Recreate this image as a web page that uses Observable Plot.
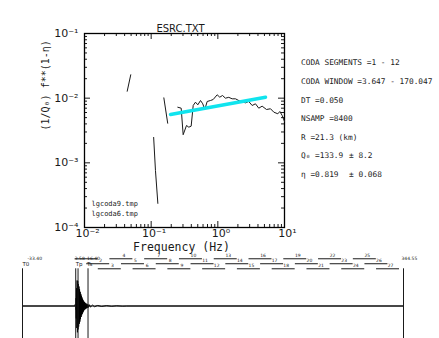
<!DOCTYPE html>
<html><head><meta charset="utf-8">
<script src="https://cdn.jsdelivr.net/npm/d3@7"></script>
<script src="https://cdn.jsdelivr.net/npm/@observablehq/plot@0.6"></script>
<style>
html,body{margin:0;padding:0;background:#fff;}
#wrap{position:relative;width:439px;height:338px;overflow:hidden;}
#wrap svg{position:absolute;left:0;}
.info{position:absolute;left:301px;font-family:"DejaVu Sans Mono",monospace;font-size:7.8px;color:#222;white-space:pre;line-height:1;}
</style></head><body><div id="wrap"></div>
<script>
// ---------- main chart data ----------
const title = "ESRC.TXT";
const xLabel = "Frequency (Hz)";
const yLabel = "(1/Q₀) f**(1-η)";
const xMajor = [0.01, 0.1, 1, 10];
const xTickLabels = ["10⁻²", "10⁻¹", "10⁰", "10¹"];
const yMajor = [1e-4, 1e-3, 1e-2, 1e-1];
const yTickLabels = ["10⁻⁴", "10⁻³", "10⁻²", "10⁻¹"];
const legendLabels = ["lgcoda9.tmp", "lgcoda6.tmp"];

// curve pieces (frequency Hz, value)
const seg1F = [0.0437, 0.0494];
const seg1V = [0.0128, 0.0230];
const seg2F = [0.109, 0.116, 0.126];
const seg2V = [0.00247, 0.000762, 0.000236];
const seg3F = [0.155, 0.177];
const seg3V = [0.0101, 0.0041];
const mainF = [0.251, 0.282, 0.302, 0.339, 0.367, 0.398, 0.427, 0.462, 0.501, 0.550, 0.594, 0.637, 0.692, 0.776, 0.851, 0.977, 1.07, 1.175, 1.30, 1.46, 1.64, 1.84, 2.19, 2.60, 2.91, 3.27, 3.67, 4.11, 4.62, 5.37, 6.17, 6.92, 7.94, 8.51, 9.23, 10.0];
const mainV = [0.00724, 0.00700, 0.00272, 0.00378, 0.00356, 0.00369, 0.00771, 0.00867, 0.00789, 0.00920, 0.00818, 0.00668, 0.00889, 0.00920, 0.00953, 0.01127, 0.01035, 0.0110, 0.0100, 0.0103, 0.00977, 0.00977, 0.00889, 0.00847, 0.00889, 0.00771, 0.00818, 0.00700, 0.00752, 0.00668, 0.00686, 0.00607, 0.00573, 0.00622, 0.00540, 0.00436];
const fitF = [0.195, 5.19];
const fitV = [0.00559, 0.01035];

// info text
const infoLines = ["CODA SEGMENTS =1 - 12", "CODA WINDOW =3.647 - 170.047", "DT =0.050", "NSAMP =8400", "R =21.3 (km)", "Q₀ =133.9", "η =0.819"];
const infoPM = ["", "", "", "", "", "± 8.2", "± 0.068"];

// ---------- seismogram data ----------
const tStart = -33.4, tEnd = 344.55;
const markerT = [-33.4, 19.4, 21.7, 31.6, 344.55];
const markerValueLabels = ["-33.40", "3.58", "", "16.40", "344.55"];
const markerNameLabels = ["T0", "Tp", "", "Ts", ""];
const segStart = [18.8, 30.3, 41.8, 53.3, 64.8, 76.3, 87.8, 99.3, 110.8, 122.3, 133.8, 145.3, 156.8, 168.3, 179.8, 191.3, 202.8, 214.3, 225.8, 237.3, 248.8, 260.3, 271.8, 283.3, 294.8, 306.3, 317.8];
const segLen = 22.8;
const traceT = [-33.4, 18.6, 19.0, 19.3, 19.6, 19.9, 20.2, 20.5, 20.8, 21.1, 21.4, 21.7, 22.0, 22.3, 22.6, 22.9, 23.2, 23.5, 23.8, 24.1, 24.4, 24.7, 25.0, 25.3, 25.6, 25.9, 26.2, 26.5, 26.8, 27.1, 27.4, 27.7, 28.0, 28.4, 28.8, 29.2, 29.6, 30.0, 30.5, 31.0, 31.5, 32, 33, 34, 36, 38, 41, 45, 50, 55, 60, 66, 70, 344.55];
const traceA = [0, 0, 0.05, -0.1, 0.22, -0.35, 0.5, -0.62, 0.72, -0.74, 0.7, -0.66, 0.62, -0.58, 0.55, -0.5, 0.47, -0.44, 0.4, -0.37, 0.34, -0.31, 0.29, -0.26, 0.24, -0.22, 0.2, -0.18, 0.16, -0.15, 0.13, -0.12, 0.11, -0.1, 0.09, -0.08, 0.07, -0.065, 0.06, -0.05, 0.045, -0.04, 0.035, -0.03, 0.025, -0.02, 0.015, -0.012, 0.01, -0.008, 0.006, -0.005, 0, 0];

// ---------- build ----------
const zip = (a, b) => a.map((v, i) => ({x: v, y: b[i]}));
const minorOf = (majors) => majors.slice(0, -1).flatMap(m => [2,3,4,5,6,7,8,9].map(k => k * m));
const xMinor = minorOf(xMajor), yMinor = minorOf(yMajor);
const idx = (arr, d) => arr.findIndex(v => Math.abs(Math.log10(v) - Math.log10(d)) < 1e-6);
const ink = "#1a1a1a";
const FW = 200, FH = 194; // frame size in px (439-84-155, 250-33-23)

const main = Plot.plot({
  width: 439, height: 250,
  marginLeft: 84, marginRight: 155, marginTop: 33, marginBottom: 23,
  x: {type: "log", domain: [0.01, 10]},
  y: {type: "log", domain: [1e-4, 0.1]},
  style: {fontFamily: "DejaVu Sans", background: "transparent", overflow: "visible", color: ink},
  marks: [
    // inward ticks on all four sides
    Plot.ruleX(xMajor, {insetTop: FH - 6, stroke: ink}),
    Plot.ruleX(xMajor, {insetBottom: FH - 6, stroke: ink}),
    Plot.ruleX(xMinor, {insetTop: FH - 3, stroke: ink}),
    Plot.ruleX(xMinor, {insetBottom: FH - 3, stroke: ink}),
    Plot.ruleY(yMajor, {insetRight: FW - 6, stroke: ink}),
    Plot.ruleY(yMajor, {insetLeft: FW - 6, stroke: ink}),
    Plot.ruleY(yMinor, {insetRight: FW - 3, stroke: ink}),
    Plot.ruleY(yMinor, {insetLeft: FW - 3, stroke: ink}),
    Plot.axisX(xMajor, {anchor: "bottom", tickSize: 0, tickPadding: 2, fontSize: 11, dx: 3, tickFormat: d => xTickLabels[idx(xMajor, d)], label: null}),
    Plot.axisY(yMajor, {anchor: "left", tickSize: 0, tickPadding: 6, fontSize: 11, tickFormat: d => yTickLabels[idx(yMajor, d)], label: null}),
    Plot.frame({stroke: "#000", strokeWidth: 1.3}),
    Plot.text([title], {frameAnchor: "top", dy: -9, dx: -4, fontSize: 10}),
    Plot.text([xLabel], {frameAnchor: "bottom", dy: 23, dx: -3, fontSize: 11.5, fontFamily: "DejaVu Sans Mono"}),
    Plot.text([yLabel], {frameAnchor: "left", dx: -39, rotate: -90, fontSize: 10, fontFamily: "DejaVu Sans Mono"}),
    Plot.text([legendLabels[0]], {frameAnchor: "bottom-left", dx: 7, dy: -22, textAnchor: "start", fontSize: 7, fontFamily: "DejaVu Sans Mono"}),
    Plot.text([legendLabels[1]], {frameAnchor: "bottom-left", dx: 7, dy: -12, textAnchor: "start", fontSize: 7, fontFamily: "DejaVu Sans Mono"}),
    Plot.line(zip(seg1F, seg1V), {x: "x", y: "y", stroke: ink, strokeWidth: 1}),
    Plot.line(zip(seg2F, seg2V), {x: "x", y: "y", stroke: ink, strokeWidth: 1}),
    Plot.line(zip(seg3F, seg3V), {x: "x", y: "y", stroke: ink, strokeWidth: 1}),
    Plot.line(zip(mainF, mainV), {x: "x", y: "y", stroke: ink, strokeWidth: 1}),
    Plot.line(zip(fitF, fitV), {x: "x", y: "y", stroke: "#10e4ee", strokeWidth: 3.5})
  ]
});
main.style.top = "0px";

const tr = zip(traceT, traceA);
const rowY = [1.33, 1.19, 1.048];
const segs = segStart.map((s, i) => ({k: i + 1, s, e: s + segLen, row: i % 3}));
const valueDx = [5, -1, 0, -1, -2];
const nameDx = [0, 0, 0, -1, 0];
const markerTextMarks = markerT.flatMap((t, i) => [
  Plot.text([t], {x: d => d, text: () => markerValueLabels[i], frameAnchor: "top", dy: 6, dx: valueDx[i], textAnchor: "start", fontSize: 4.5}),
  Plot.text([t], {x: d => d, text: () => markerNameLabels[i], frameAnchor: "top", dy: 11.5, dx: nameDx[i], textAnchor: "start", fontSize: 5.5})
]);
const seis = Plot.plot({
  width: 439, height: 88,
  marginLeft: 22, marginRight: 36, marginTop: 0, marginBottom: 0,
  x: {domain: [tStart, tEnd], axis: null},
  y: {domain: [-0.915, 1.563], axis: null},
  style: {fontFamily: "DejaVu Sans", background: "transparent", overflow: "visible", color: ink},
  marks: [
    Plot.ruleY([0], {x1: tStart, x2: tEnd, stroke: ink, strokeWidth: 1}),
    Plot.line(tr, {x: "x", y: "y", stroke: "#000", strokeWidth: 1}),
    Plot.ruleX(markerT, {y1: rowY[2], y2: -0.915, stroke: ink, strokeWidth: 1}),
    Plot.ruleY(segs, {x1: "s", x2: "e", y: d => rowY[d.row], stroke: ink, strokeWidth: 1}),
    Plot.text(segs.filter(d => d.k > 1), {x: d => d.s + 13.9, y: d => rowY[d.row], dy: -3, text: d => String(d.k), fontSize: 4.5}),
    ...markerTextMarks
  ]
});
seis.style.top = "250px";

const wrap = document.getElementById("wrap");
wrap.appendChild(main);
wrap.appendChild(seis);

const infoY = [63, 82, 100.5, 119, 137.5, 156, 175];
infoLines.forEach((s, i) => {
  const d = document.createElement("div");
  d.className = "info"; d.textContent = s; d.style.top = (infoY[i] - 4) + "px";
  wrap.appendChild(d);
  if (infoPM[i]) {
    const p = document.createElement("div");
    p.className = "info"; p.textContent = infoPM[i];
    p.style.top = (infoY[i] - 4) + "px"; p.style.left = "349px";
    wrap.appendChild(p);
  }
});
</script></body></html>
